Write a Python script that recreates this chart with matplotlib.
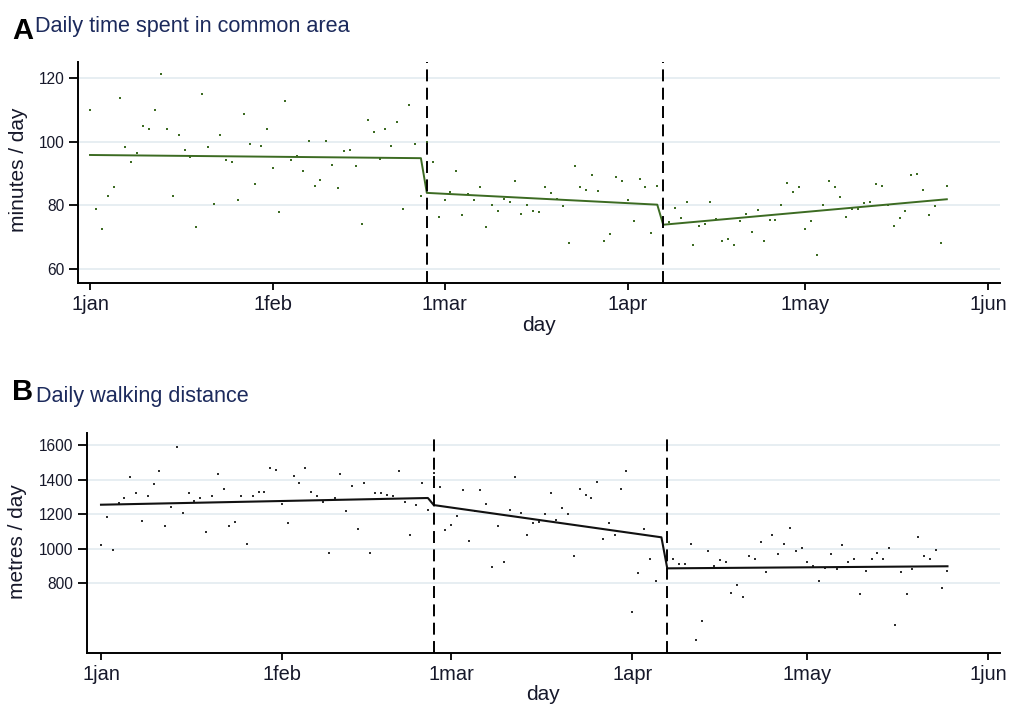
import matplotlib
matplotlib.use("Agg")
import matplotlib.pyplot as plt

plt.rcParams['font.family'] = ['Liberation Sans', 'DejaVu Sans']
plt.rcParams['lines.scale_dashes'] = False

# ---------------- data ----------------
tick_days = [0, 31, 60, 91, 121, 152]
tick_labels = ['1jan', '1feb', '1mar', '1apr', '1may', '1jun']
interventions = [57, 97]

days_a = list(range(0, 146))
minutes = [109.8, 78.7, 72.7, 82.9, 85.8, 113.7, 98.3, 93.6, 96.4, 104.8,
           103.9, 109.8, 121.2, 103.9, 82.9, 102.0, 97.4, 95.1, 73.2, 115.1,
           98.3, 80.5, 102.0, 94.1, 93.6, 81.6, 108.6, 99.2, 86.7, 98.7,
           103.9, 91.8, 77.8, 112.7, 94.1, 95.6, 90.9, 100.2, 86.2, 88.1,
           100.2, 92.7, 85.4, 97.0, 97.4, 92.3, 74.2, 106.7, 103.0, 94.6,
           103.9, 98.7, 106.3, 78.7, 111.4, 99.3, 82.9, 99.8, 93.7, 76.4,
           81.6, 84.3, 90.9, 77.0, 83.7, 81.6, 85.8, 73.2, 80.1, 78.3,
           82.1, 81.0, 87.6, 77.3, 80.1, 78.3, 77.8, 85.8, 84.0, 82.1,
           79.8, 68.1, 92.3, 85.8, 84.8, 89.5, 84.4, 68.9, 71.0, 89.0,
           87.6, 81.6, 75.0, 88.2, 85.8, 71.3, 86.2, 79.4, 74.6, 79.3,
           75.9, 81.0, 67.5, 73.6, 74.0, 81.0, 75.8, 68.9, 69.4, 67.5,
           75.0, 77.4, 71.7, 78.6, 68.9, 75.4, 75.4, 80.2, 87.1, 84.3,
           85.8, 72.7, 75.0, 64.3, 80.1, 87.6, 85.8, 82.5, 76.4, 78.7,
           78.7, 80.6, 81.0, 86.7, 86.2, 80.1, 73.6, 75.9, 78.3, 89.5,
           89.9, 84.8, 77.0, 79.7, 68.1, 86.2]
fit_days_a = [0, 56, 57, 96, 97, 145]
fit_minutes = [95.8, 94.8, 83.9, 80.2, 73.9, 81.9]

days_b = list(range(0, 96)) + list(range(98, 146))
metres = [1018, 1183, 993, 1262, 1295, 1415, 1322, 1158, 1302, 1372,
          1449, 1129, 1243, 1586, 1208, 1320, 1277, 1295, 1096, 1302,
          1432, 1345, 1129, 1156, 1302, 1028, 1302, 1328, 1328, 1465,
          1455, 1258, 1148, 1422, 1380, 1465, 1328, 1302, 1268, 976,
          1295, 1432, 1217, 1362, 1113, 1380, 976, 1320, 1320, 1310,
          1302, 1447, 1268, 1078, 1250, 1380, 1225, 1440, 1355, 1105,
          1138, 1190, 1337, 1046, 1217, 1337, 1260, 891, 1130, 924,
          1225, 1415, 1208, 1078, 1148, 1156, 1198, 1320, 1165, 1233,
          1198, 959, 1345, 1310, 1293, 1387, 1053, 1148, 1078, 1345,
          1447, 632, 856, 1113, 941, 814,
          941, 908, 908, 1028, 470, 582, 986, 899, 933, 924,
          744, 787, 719, 959, 941, 1036, 864, 1078, 968, 1028,
          1121, 984, 1001, 924, 899, 812, 889, 966, 881, 1018,
          924, 941, 734, 872, 941, 976, 941, 1001, 555, 864,
          734, 881, 1069, 959, 941, 993, 769, 872]
fit_days_b = [0, 56, 57, 96, 97, 145]
fit_metres = [1254, 1293, 1252, 1065, 885, 897]

# ---------------- style ----------------
W, H = 1011, 705
fig = plt.figure(figsize=(W / 100, H / 100), dpi=100)

green = '#3c6b22'
title_col = '#1c2a5c'
text_col = '#16182a'
grid_col = '#e3ebf0'


def frac(l, t, r, b):
    return [l / W, 1 - b / H, (r - l) / W, (b - t) / H]


def style(ax, yticks, xlim, ylim):
    ax.set_xlim(*xlim)
    ax.set_ylim(*ylim)
    for s in ('top', 'right'):
        ax.spines[s].set_visible(False)
    for s in ('left', 'bottom'):
        ax.spines[s].set_linewidth(1.4)
        ax.spines[s].set_color('black')
    ax.set_yticks(yticks)
    ax.set_yticklabels([str(v) for v in yticks])
    ax.set_xticks(tick_days)
    ax.set_xticklabels(tick_labels)
    ax.tick_params(axis='y', length=6.5, width=1.3, pad=3.4,
                   labelsize=11.2, labelcolor=text_col)
    ax.tick_params(axis='x', length=5, width=1.3, pad=4,
                   labelsize=14.4, labelcolor=text_col)
    ax.yaxis.grid(True, color=grid_col, linewidth=1.2)
    ax.set_axisbelow(True)
    for d in interventions:
        ax.axvline(d, color='black', linewidth=1.4, linestyle=(0, (8.6, 4.6)),
                   zorder=4)


# Panel A
axA = fig.add_axes(frac(78, 62, 1000, 283))
style(axA, [60, 80, 100, 120], (-2.03, 154.0), (55.6, 125.0))
axA.scatter(days_a, minutes, s=4.2, marker='s', color=green, linewidths=0,
            zorder=3)
axA.plot(fit_days_a, fit_minutes, color=green, linewidth=1.4, zorder=3)

# Panel B
axB = fig.add_axes(frac(87, 433, 1000, 653))
style(axB, [800, 1000, 1200, 1400, 1600], (-2.4, 154.0), (394, 1670))
axB.scatter(days_b, metres, s=4.2, marker='s', color='#2e2e2e', linewidths=0,
            zorder=3)
axB.plot(fit_days_b, fit_metres, color='#111111', linewidth=1.5, zorder=3)

# Texts
fig.text(12 / W, 1 - 39 / H, 'A', fontsize=21, fontweight='bold',
         color='black', va='baseline', ha='left')
fig.text(35 / W, 1 - 32 / H, 'Daily time spent in common area', fontsize=15.6,
         color=title_col, va='baseline', ha='left')
fig.text(12 / W, 1 - 400 / H, 'B', fontsize=21, fontweight='bold',
         color='black', va='baseline', ha='left')
fig.text(35.5 / W, 1 - 402 / H, 'Daily walking distance', fontsize=15.6,
         color=title_col, va='baseline', ha='left')

fig.text(19 / W, 1 - 170 / H, 'minutes / day', rotation=90, fontsize=15,
         color=text_col, ha='center', va='center')
fig.text(17.5 / W, 1 - 542 / H, 'metres / day', rotation=90, fontsize=15,
         color=text_col, ha='center', va='center')
fig.text(539 / W, 1 - 325.5 / H, 'day', fontsize=15, color=text_col,
         ha='center', va='center')
fig.text(543 / W, 1 - 695 / H, 'day', fontsize=15, color=text_col,
         ha='center', va='center')

fig.savefig('out.png', dpi=100)
